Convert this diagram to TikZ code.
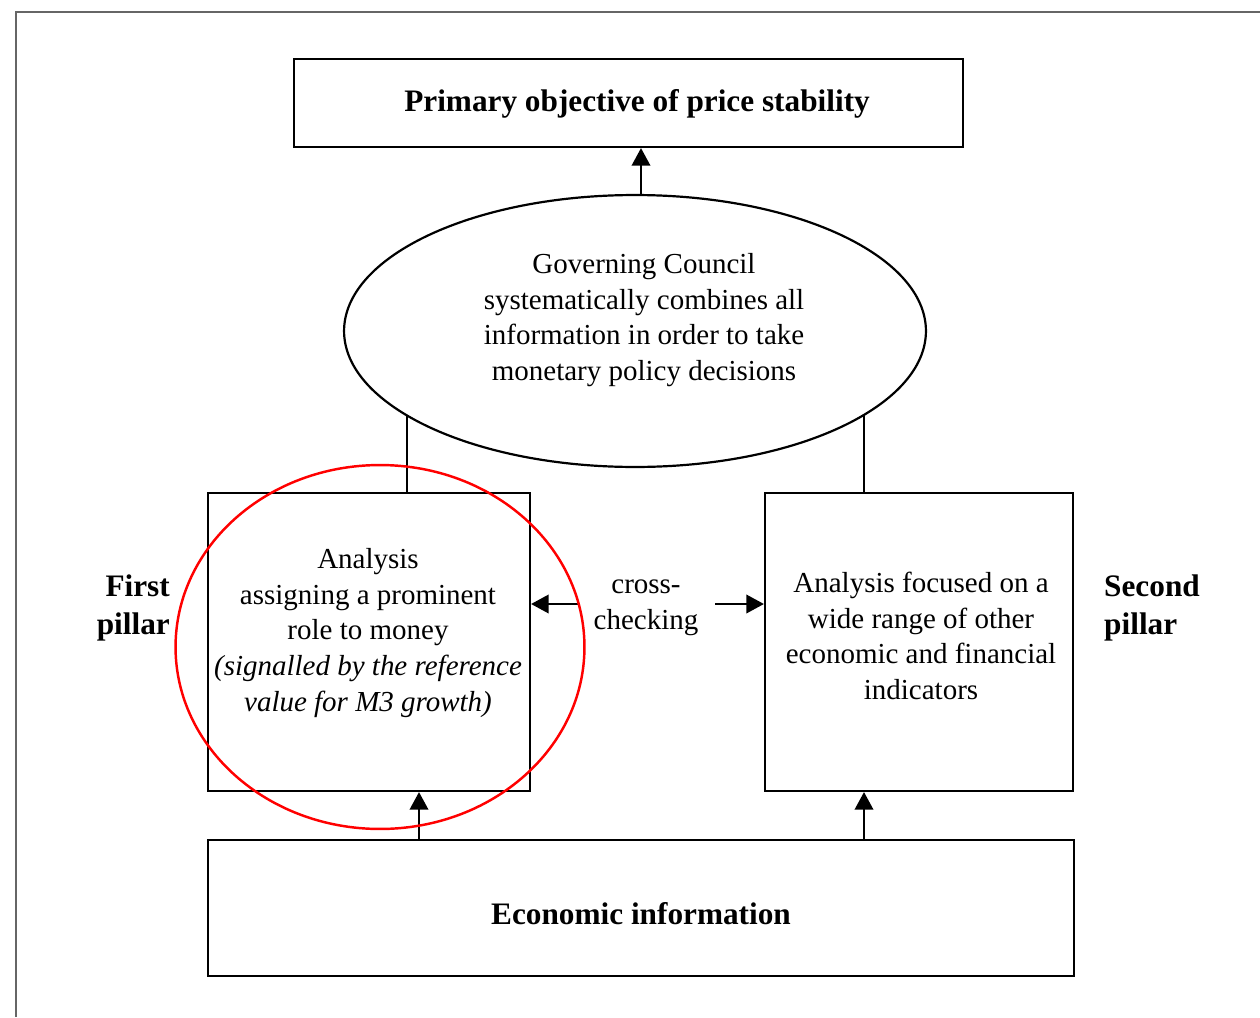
\documentclass[tikz,border=0pt]{standalone}
\usepackage{fontspec}
\setmainfont{Liberation Serif}
\usetikzlibrary{arrows.meta,shapes.geometric}

\begin{document}
\begin{tikzpicture}[x=0.02cm, y=-0.02cm,
        box/.style={draw, line width=1.25pt, inner sep=0pt},
        txt/.style={align=center, font=\fontsize{16.5}{20.3}\selectfont},
        head/.style={font=\fontsize{17.8}{22}\selectfont\bfseries},
        arr/.style={line width=1.25pt, -{Triangle[width=10.5pt, length=10pt]}}]
        \useasboundingbox (0,0) rectangle (1260,1017);
        % page frame
        \draw[gray!80!black, line width=1.6pt] (16,1017) -- (16,12) -- (1260,12);
        % boxes
        \node[box, minimum width=13.38cm, minimum height=1.76cm] (goal) at (628.5,103) {};
        \node[head] (goaltxt) at (637,104) {Primary objective of price stability};
        \node[box, shape=ellipse, minimum width=11.64cm, minimum height=5.44cm] (gc) at (635,331) {};
        \node[txt] (gctxt) at (644,320) {Governing Council\\systematically combines all\\information in order to take\\monetary policy decisions};
        \node[box, minimum width=6.44cm, minimum height=5.96cm] (first) at (369,642) {};
        \node[txt] (firsttxt) at (368,633) {Analysis\\assigning a prominent\\role to money\\\textit{(signalled by the reference}\\\textit{value for M3 growth)}};
        \node[box, minimum width=6.16cm, minimum height=5.96cm] (second) at (919,642) {};
        \node[txt] (secondtxt) at (921,636) {Analysis focused on a\\wide range of other\\economic and financial\\indicators};
        \node[box, minimum width=17.32cm, minimum height=2.72cm] (eco) at (641,908) {};
        \node[head] (ecotxt) at (641,914) {Economic information};
        % labels
        \node[head, align=right, anchor=east] (firstlab) at (176,608) {First\\pillar};
        \node[head, align=left, anchor=west] (secondlab) at (1098,608) {Second\\pillar};
        \node[txt] (cross) at (646,608) {cross-\\checking};
        % connectors
        \coordinate (gt) at (641,195);
        \coordinate (gl) at (407,415);
        \coordinate (gr) at (864,415);
        \coordinate (el) at (419,840);
        \coordinate (cl) at (580,604);
        \coordinate (cr) at (715,604);
        \draw[arr] (gt) -- (goal.south -| gt);
        \draw[line width=1.25pt] (first.north -| gl) -- (gl);
        \draw[line width=1.25pt] (second.north -| gr) -- (gr);
        \draw[arr] (eco.north -| el) -- (first.south -| el);
        \draw[arr] (eco.north -| gr) -- (second.south -| gr);
        \draw[arr] (cl) -- (first.east |- cl);
        \draw[arr] (cr) -- (second.west |- cr);
        % highlight
        \draw[red, line width=1.4pt] (380,647) ellipse [x radius=4.09cm, y radius=3.64cm];
    \end{tikzpicture}
\end{document}
